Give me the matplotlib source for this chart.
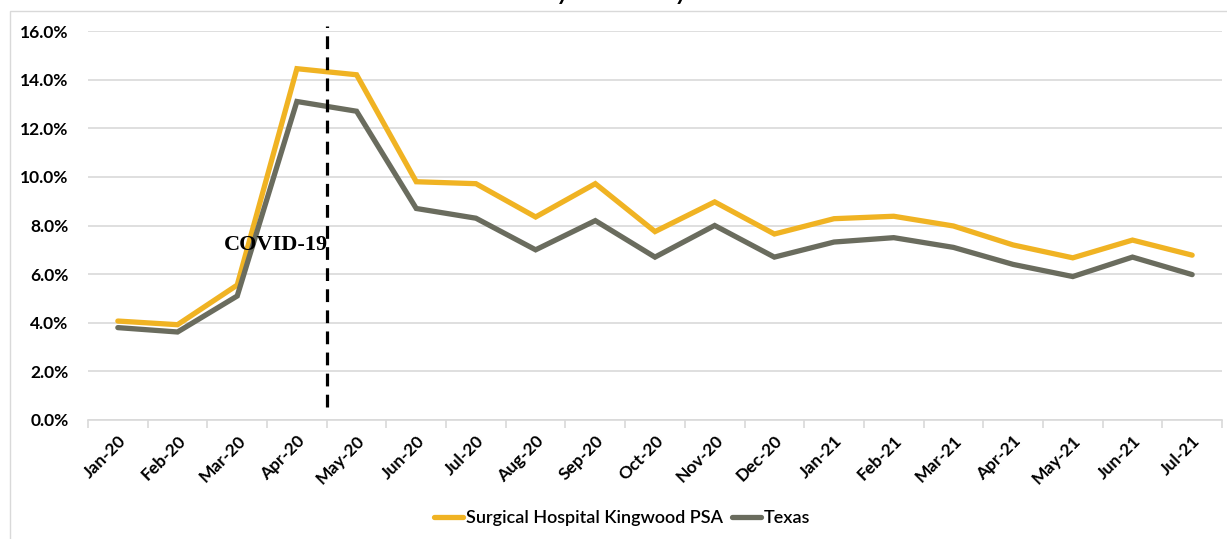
import matplotlib.pyplot as plt
from matplotlib.patches import Rectangle
from matplotlib.ticker import FuncFormatter, FixedLocator

months = ["Jan-20", "Feb-20", "Mar-20", "Apr-20", "May-20", "Jun-20", "Jul-20", "Aug-20",
          "Sep-20", "Oct-20", "Nov-20", "Dec-20", "Jan-21", "Feb-21", "Mar-21", "Apr-21",
          "May-21", "Jun-21", "Jul-21"]
kingwood = [4.07, 3.92, 5.55, 14.45, 14.2, 9.8, 9.72, 8.35, 9.72, 7.75, 8.97, 7.65,
            8.28, 8.38, 7.98, 7.2, 6.67, 7.4, 6.78]
texas = [3.8, 3.62, 5.1, 13.1, 12.7, 8.7, 8.3, 7.0, 8.2, 6.7, 8.0, 6.7,
         7.32, 7.5, 7.1, 6.4, 5.9, 6.7, 5.98]
series_names = ["Surgical Hospital Kingwood PSA", "Texas"]
title = "January 2020 - July 2021"

plt.rcParams['font.family'] = ['Lato', 'DejaVu Sans']

fig = plt.figure(figsize=(12.27, 5.39), dpi=100)
ax = fig.add_axes([88 / 1227, 1 - 420 / 539, 1134 / 1227, 389 / 539])

# chart frame + title (cut off at the top like the source image)
fig.patches.append(Rectangle((10 / 1227, -0.01), 1.02, 1 - 11 / 539 + 0.01, transform=fig.transFigure,
                             fill=False, edgecolor="#d9d9d9", linewidth=1))
fig.text(0.505, 1.0, title, ha="center", va="baseline", fontsize=17,
         fontweight="bold", style="italic")

x = list(range(len(months)))
ax.plot(x, kingwood, color="#F0B323", lw=3.8, solid_capstyle="round", solid_joinstyle="miter",
        label=series_names[0], zorder=3)
ax.plot(x, texas, color="#6A6C5E", lw=3.8, solid_capstyle="round", solid_joinstyle="miter",
        label=series_names[1], zorder=3)

ax.vlines(3.5, 0.55, 16.2, colors="black", linestyles=(0, (4, 2.6)), lw=2.3, clip_on=False, zorder=4)
ax.text(1.78, 7.2, "COVID-19", family="Liberation Serif", fontweight="bold", fontsize=16,
        va="center", ha="left", zorder=5)

ax.set_xlim(-0.5, len(months) - 0.5)
ax.set_ylim(0, 16)
ax.set_yticks([0, 2, 4, 6, 8, 10, 12, 14, 16])
ax.yaxis.set_major_formatter(FuncFormatter(lambda v, p: f"{v:.1f}%"))
ax.grid(axis="y", color="#d9d9d9", lw=1.2)
ax.set_axisbelow(True)

ax.set_xticks(x)
ax.set_xticklabels(months, rotation=45, ha="right", rotation_mode="anchor")
ax.xaxis.set_minor_locator(FixedLocator([i - 0.5 for i in range(len(months) + 1)]))
ax.tick_params(axis="x", which="major", length=0, pad=9)
ax.tick_params(axis="x", which="minor", length=6, color="#d9d9d9", width=1.2)
ax.tick_params(axis="y", length=0, pad=14)
for lab in ax.get_xticklabels() + ax.get_yticklabels():
    lab.set_fontweight("bold")
    lab.set_fontsize(12.5)

for s in ["top", "right", "left"]:
    ax.spines[s].set_visible(False)
ax.spines["bottom"].set_color("#d9d9d9")
ax.spines["bottom"].set_linewidth(1.2)

fig.legend(loc="center", bbox_to_anchor=(0.507, 1 - 518 / 539), ncol=2, frameon=False,
           prop={"size": 13, "weight": "semibold"}, handlelength=1.6, handletextpad=0.15,
           columnspacing=0.5)

fig.savefig("out.png", dpi=100)
